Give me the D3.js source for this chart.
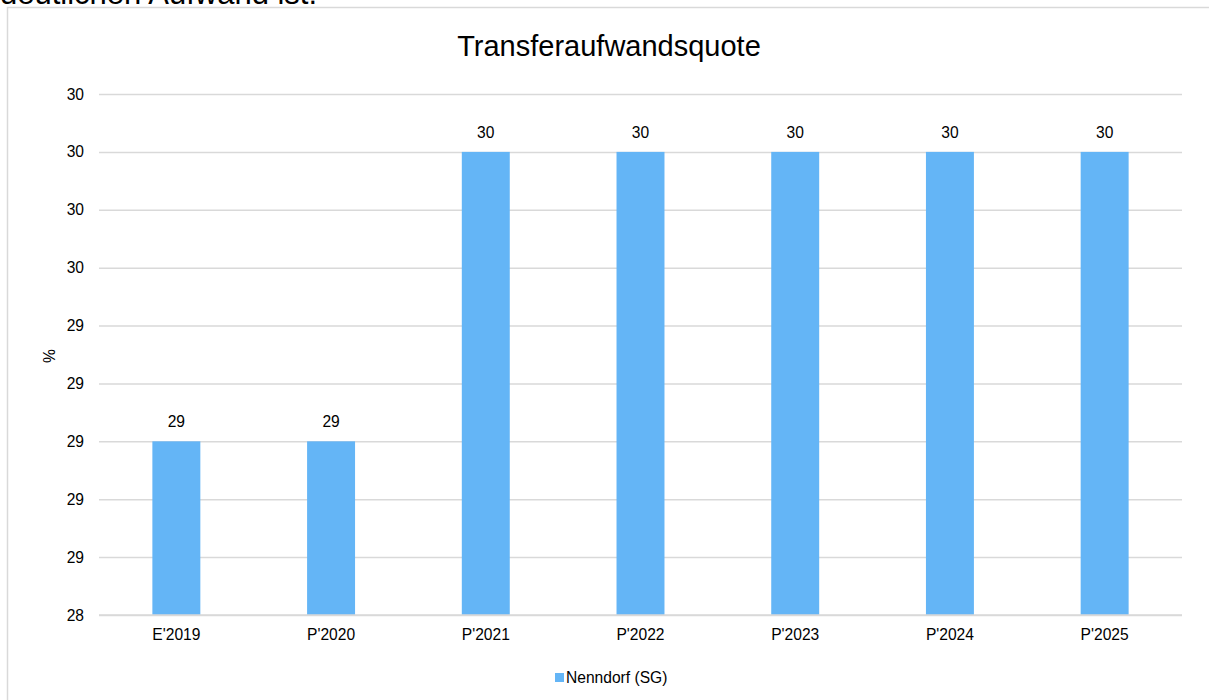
<!DOCTYPE html>
<html>
<head>
<meta charset="utf-8">
<script src="https://cdn.jsdelivr.net/npm/d3@7"></script>
<style>
  html, body { margin: 0; padding: 0; background: #fff; overflow: hidden; }
  svg { display: block; font-family: "Liberation Sans", Arial, sans-serif; }
</style>
</head>
<body>
<svg id="chart" width="1209" height="700"></svg>
<script>
const categories = ["E'2019", "P'2020", "P'2021", "P'2022", "P'2023", "P'2024", "P'2025"];
const values = [29, 29, 30, 30, 30, 30, 30];
const yTicks = [28.4, 28.6, 28.8, 29.0, 29.2, 29.4, 29.6, 29.8, 30.0, 30.2];
const seriesName = "Nenndorf (SG)";
const title = "Transferaufwandsquote";
const yLabel = "%";
const topText = "deutlichen Aufwand ist.";

const svg = d3.select("#chart");
const W = 1209, H = 700;
const m = { left: 99, right: 1182, top: 94, bottom: 615 };
const barColor = "#64b5f6";
const gridColor = "#d9d9d9";
const fs = 15.6;

// cropped document text above chart
svg.append("text").attr("x", 0).attr("y", 4)
  .attr("font-size", 31).attr("fill", "#000").text(topText);

// chart frame
svg.append("path")
  .attr("d", `M7.5,${H} L7.5,7.5 L${W},7.5`)
  .attr("fill", "none").attr("stroke", gridColor).attr("stroke-width", 1.5);

const x = d3.scaleBand().domain(categories).range([m.left, m.right])
  .paddingInner(0.69).paddingOuter(0.345);
const y = d3.scaleLinear().domain([yTicks[0], yTicks[yTicks.length - 1]]).range([m.bottom, m.top]);

// gridlines + y tick labels via axis
const yAxis = d3.axisLeft(y).tickValues(yTicks).tickFormat(d3.format(".0f"))
  .tickSize(-(m.right - m.left)).tickPadding(15);
const gy = svg.append("g").attr("transform", `translate(${m.left},0)`).call(yAxis);
gy.select(".domain").remove();
gy.selectAll(".tick line").attr("stroke", gridColor).attr("stroke-width", 1.5);
gy.selectAll(".tick text").attr("font-size", fs).attr("fill", "#000")
  .attr("font-family", "Liberation Sans, Arial, sans-serif");

// bars
svg.append("g").selectAll("rect").data(values).join("rect")
  .attr("x", (d, i) => x(categories[i]))
  .attr("y", d => y(d))
  .attr("width", x.bandwidth())
  .attr("height", d => y(yTicks[0]) - y(d))
  .attr("fill", barColor);

// baseline gridline on top
svg.append("line").attr("x1", m.left).attr("x2", m.right)
  .attr("y1", y(yTicks[0])).attr("y2", y(yTicks[0]))
  .attr("stroke", gridColor).attr("stroke-width", 1.5);

// value labels
svg.append("g").selectAll("text").data(values).join("text")
  .attr("x", (d, i) => x(categories[i]) + x.bandwidth() / 2)
  .attr("y", d => y(d) - 14)
  .attr("text-anchor", "middle").attr("font-size", fs).attr("fill", "#000")
  .text(d => d3.format(".0f")(d));

// x axis labels
const xAxis = d3.axisBottom(x).tickSize(0).tickPadding(14);
const gx = svg.append("g").attr("transform", `translate(0,${m.bottom})`).call(xAxis);
gx.select(".domain").remove();
gx.selectAll(".tick text").attr("font-size", fs).attr("fill", "#000")
  .attr("font-family", "Liberation Sans, Arial, sans-serif");

// title
svg.append("text").attr("x", 609).attr("y", 56).attr("text-anchor", "middle")
  .attr("font-size", 29).attr("fill", "#000").text(title);

// y label
svg.append("text").attr("transform", "translate(55,356) rotate(-90)")
  .attr("text-anchor", "middle").attr("font-size", fs).attr("fill", "#000").text(yLabel);

// legend
const lg = svg.append("g");
lg.append("rect").attr("x", 555).attr("y", 673).attr("width", 9).attr("height", 9).attr("fill", barColor);
lg.append("text").attr("x", 566).attr("y", 683).attr("font-size", fs).attr("fill", "#000").text(seriesName);
</script>
</body>
</html>
